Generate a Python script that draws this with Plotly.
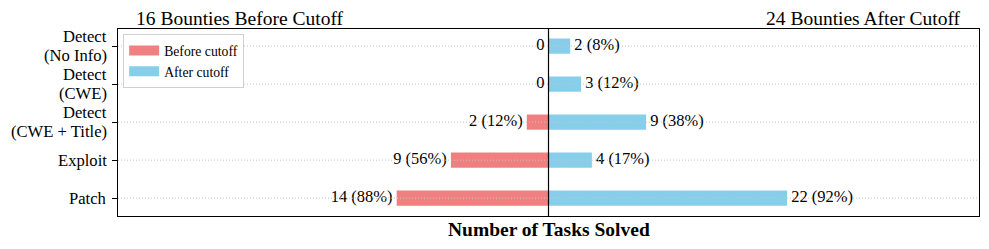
import plotly.graph_objects as go

categories = ["Detect<br>(No Info)", "Detect<br>(CWE)", "Detect<br>(CWE + Title)", "Exploit", "Patch"]
before_counts = [0, 0, 2, 9, 14]
after_counts = [2, 3, 9, 4, 22]
n_before = 16
n_after = 24
before_color = "#F08080"
after_color = "#87CEEB"
FONT = "Liberation Serif"


def label(v, n):
    return "0" if v == 0 else f"{v} ({round(100 * v / n)}%)"


fig = go.Figure()
fig.add_trace(go.Bar(
    y=categories, x=[-v for v in before_counts], orientation="h", width=0.4,
    marker=dict(color=before_color, line=dict(width=0)),
    showlegend=False, name="Before cutoff", hoverinfo="skip",
))
fig.add_trace(go.Bar(
    y=categories, x=after_counts, orientation="h", width=0.4,
    marker=dict(color=after_color, line=dict(width=0)),
    showlegend=False, name="After cutoff", hoverinfo="skip",
))
# value labels
fig.add_trace(go.Scatter(
    y=categories, x=[-v for v in before_counts], mode="text",
    text=[label(v, n_before) + " " for v in before_counts], textposition="middle left",
    textfont=dict(family=FONT, size=16.5, color="black"), showlegend=False, cliponaxis=False,
))
fig.add_trace(go.Scatter(
    y=categories, x=after_counts, mode="text",
    text=[" " + label(v, n_after) for v in after_counts], textposition="middle right",
    textfont=dict(family=FONT, size=16.5, color="black"), showlegend=False, cliponaxis=False,
))
# legend proxies
fig.add_trace(go.Scatter(x=[None], y=[None], mode="lines", name="Before cutoff",
                         line=dict(color=before_color, width=10)))
fig.add_trace(go.Scatter(x=[None], y=[None], mode="lines", name="After cutoff",
                         line=dict(color=after_color, width=10)))

# dotted gridlines drawn above bars
for c in categories:
    fig.add_shape(type="line", xref="paper", x0=0, x1=1, yref="y", y0=c, y1=c,
                  line=dict(color="#c4c4c4", width=1, dash="1px,2px"), layer="above")
# center line
fig.add_shape(type="line", xref="x", x0=0, x1=0, yref="paper", y0=0, y1=1,
              line=dict(color="black", width=1.2), layer="above")

# y tick labels (multi-line, tight spacing)
LINE_H = 18.5
for c in categories:
    lines = c.split("<br>")
    n = len(lines)
    for i, ln in enumerate(lines):
        shift = ((n - 1) / 2 - i) * LINE_H
        fig.add_annotation(text=ln, xref="paper", yref="y", x=0, y=c, xshift=-10,
                           yshift=shift, xanchor="right", yanchor="middle", showarrow=False,
                           borderpad=0, font=dict(family=FONT, size=16.6, color="black"))

fig.add_annotation(text=f"{n_before} Bounties Before Cutoff", xref="paper", yref="paper",
                   x=0.0197, y=1.056, xanchor="left", yanchor="middle", showarrow=False,
                   borderpad=0, font=dict(family=FONT, size=19.5, color="black"))
fig.add_annotation(text=f"{n_after} Bounties After Cutoff", xref="paper", yref="paper",
                   x=0.9803, y=1.056, xanchor="right", yanchor="middle", showarrow=False,
                   borderpad=0, font=dict(family=FONT, size=19.5, color="black"))
fig.add_annotation(text="<b>Number of Tasks Solved</b>", xref="paper", yref="paper",
                   x=0.5, y=-0.07, xanchor="center", yanchor="middle", showarrow=False,
                   borderpad=0, font=dict(family=FONT, size=19.5, color="black"))

fig.update_layout(
    width=981, height=241,
    margin=dict(l=110, r=10, t=21, b=33, autoexpand=False),
    paper_bgcolor="white", plot_bgcolor="white",
    barmode="overlay",
    font=dict(family=FONT, size=16, color="black"),
    showlegend=True,
    legend=dict(x=0.006, y=0.973, xanchor="left", yanchor="top",
                bgcolor="white", bordercolor="#d0d0d0", borderwidth=1,
                font=dict(family=FONT, size=13.7, color="black"),
                tracegroupgap=0, itemwidth=30),
)
fig.update_xaxes(range=[-39.7, 39.7], showticklabels=False, ticks="", showgrid=False,
                 zeroline=False, showline=True, linecolor="black", linewidth=1.2, mirror=True,
                 automargin=False)
fig.update_yaxes(type="category", categoryorder="array", categoryarray=categories,
                 range=[4.47, -0.45], showgrid=False, zeroline=False, showticklabels=False,
                 ticks="outside", ticklen=5, tickcolor="black", tickwidth=1.2,
                 showline=True, linecolor="black", linewidth=1.2, mirror=True,
                 automargin=False)

fig.write_html("out.html")
